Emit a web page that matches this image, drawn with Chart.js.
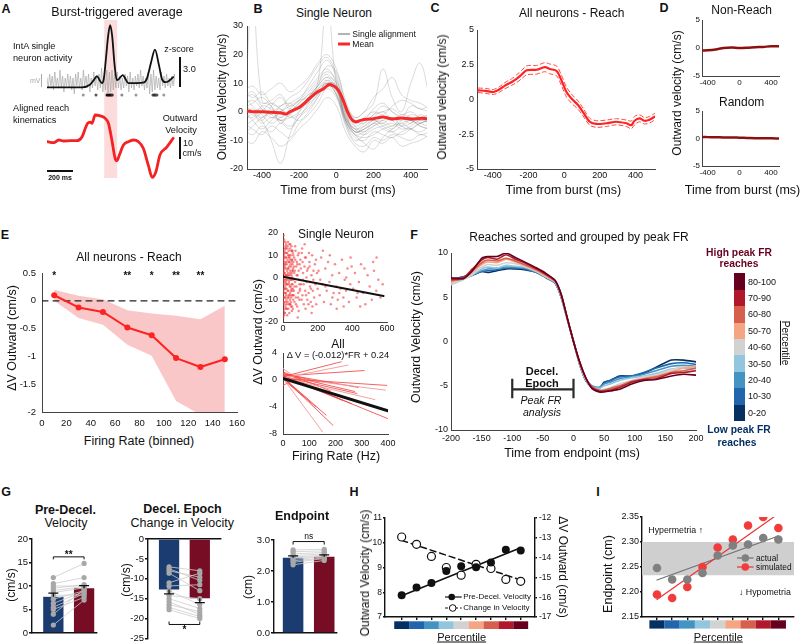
<!DOCTYPE html>
<html>
<head>
<meta charset="utf-8">
<title>IntA bursts and reach kinematics</title>
<script src="https://cdn.jsdelivr.net/npm/chart.js@4.4.1/dist/chart.umd.min.js"></script>
<style>
  html, body { margin: 0; padding: 0; background: #fff; }
  #fig { position: relative; width: 800px; height: 643px; overflow: hidden; background: #fff;
         font-family: "Liberation Sans", Arial, Helvetica, sans-serif; color: #111; }
  #fig canvas { position: absolute; }
  .lb { position: absolute; white-space: nowrap; line-height: 1; }
</style>
</head>
<body>
<div id="fig"></div>
<script>
// ---------- A: burst-triggered average (ms from burst) ----------
const zTimes = [-489,-220,-160,-130,-106,-85,-67,-52,-38,-19,-4,11,30,47,62,93,115,136,250,277,295,310,341,371,395,420,445,481];
const zScore = [0,0,0.25,0.7,1.1,0.7,0.4,0.9,2.6,5.1,6.1,5.1,2.2,0.7,0.8,1.2,0.8,0.4,0.45,0.8,1.6,2.4,3.7,2.2,0.8,0.5,0.6,1.0];
const rasterMv = [
  0.02,-0.03,0.04,-0.02,0.03,-0.04,0.05,-0.02,0.02,-0.03,
  0.06,-0.03,0.03,-0.05,0.02,-0.02,0.04,-0.03,0.03,-0.04,
  0.02,-0.06,0.04,-0.02,0.05,-0.03,0.02,-0.04,0.06,-0.02,
  0.03,-0.03,0.04,-0.05,0.02,-0.03,0.05,-0.02,0.03,-0.04,
  0.04,-0.03,0.07,-0.05,0.03,-0.04,0.06,-0.06,0.05,-0.05,
  0.06,-0.04,0.04,-0.03,0.05,-0.03,0.03,-0.04,0.02,-0.03,
  0.04,-0.02,0.03,-0.05,0.05,-0.03,0.02,-0.04,0.03,-0.02,
  0.04,-0.03,0.06,-0.02,0.03,-0.04,0.02,-0.03,0.05,-0.06,
  0.04,-0.05,0.06,-0.04,0.03,-0.03,0.02,-0.04,0.05,-0.02,
  0.03,-0.03,0.04,-0.02,0.02,-0.03,0.03,-0.02,0.04,-0.03];
const rasterT = rasterMv.map((v, i) => -490 + i * 10);
const spikeDotT = [-211,-113,-28,-18,-8,2,12,86,195,325,335,345,356,409];
const spikeDotColor = ['#999','#555','#111','#111','#111','#111','#333','#888','#999','#555','#333','#333','#555','#999'];
const velTimes = [-489,-438,-400,-361,-310,-259,-220,-195,-178,-157,-144,-119,-80,-42,-17,9,34,47,67,98,136,175,213,251,289,320,348,379,430,481];
const velocity = [-0.3,-0.75,0.44,0,0.13,0.13,1.9,5.6,7.8,8.3,7.8,11.5,11.1,10.0,7.8,0.44,-7.65,-8.7,-6.2,-1.8,-0.3,0.44,-0.3,-3.2,-10.6,-16.1,-13.6,-6.2,-2.8,1.2];
const burstWindow = [-50, 50];

// ---------- B: single neuron alignments ----------
const bTimes = [-500,-450,-400,-350,-300,-250,-200,-150,-100,-50,0,50,100,150,200,250,300,350,400,450,500];
const bTraces = [
  [2,4,1,-2,0,3,5,8,12,15,10,-2,-6,-5,-3,-4,-2,-5,-6,-4,-3],
  [-3,-1,-4,-2,-3,-1,2,5,9,12,8,-3,-8,-7,-5,-4,-6,-3,-2,-4,-5],
  [5,7,3,4,6,2,4,9,14,18,12,0,-5,-3,1,3,0,-2,2,1,0],
  [-6,-8,-5,-7,-4,-6,-2,1,5,9,6,-4,-9,-10,-7,-8,-9,-7,-6,-8,-7],
  [0,-2,2,1,-1,0,3,6,10,13,9,-1,-7,-6,-4,-2,-3,-1,-2,-3,-2],
  [8,5,7,3,2,5,7,11,16,19,13,2,-4,-2,0,-1,2,4,3,1,2],
  [-1,1,-2,0,-3,-2,0,4,8,11,7,-2,-6,-8,-6,-5,-4,-6,-5,-3,-4],
  [3,0,-3,2,5,1,2,3,6,10,9,0,-7,-5,-2,0,-3,-5,-4,-2,-1],
  [-4,-6,-8,-5,-7,-9,-4,-1,3,8,5,-5,-11,-12,-9,-10,-8,-9,-10,-8,-9],
  [1,3,5,2,-2,1,4,7,11,14,11,1,-5,-7,-4,-6,-7,-5,-3,-5,-6],
  [-2,0,1,-1,2,3,1,5,9,12,10,-1,-6,-4,-1,2,0,-2,-4,-1,-3],
  [6,2,-1,-4,-2,0,3,6,7,9,8,-3,-8,-9,-8,-6,-5,-4,-6,-7,-5],
  [-8,-5,-2,0,1,-2,-1,2,6,10,9,-2,-7,-6,-3,-5,-7,-8,-6,-4,-3],
  [4,6,2,-1,-3,-5,-2,3,9,16,14,3,-3,-4,-1,0,1,-1,0,-2,-1],
  [0,-3,-6,-3,0,2,4,5,8,10,6,-4,-10,-8,-5,-3,-2,-3,-1,-2,-4],
  [-5,-3,0,3,1,-1,-3,0,5,11,8,-3,-8,-11,-13,-9,-6,-4,-3,-5,-6],
  [-13,40,4,2,-4,0,2,4,7,10,6,-3,-7,-6,-4,-3,-5,-2,-3,-4,-2],
  [2,0,-3,-10,-18,-8,0,5,10,40,10,2,-2,0,3,15,5,0,10,17,5],
  [7,9,6,8,10,7,9,12,17,20,15,4,-2,0,5,8,12,6,4,3,1],
  [-9,-11,-7,-9,-12,-10,-6,-3,1,5,2,-7,-12,-14,-10,-11,-9,-12,-11,-10,-8]
];
const bMeanT = [-480,-450,-400,-350,-300,-270,-250,-200,-150,-120,-100,-70,-40,-20,0,20,40,60,80,100,130,160,200,250,300,350,400,450,487];
const bMean = [0.3,0,0,-0.2,-0.3,-0.8,0,1.5,4.3,6,7,8,9.5,9.2,8.3,6.5,3.5,0,-2.5,-3.5,-3,-2.6,-2.4,-1.8,-2.5,-2.2,-2.5,-2.3,-2.4];

// ---------- C: all neurons, reach ----------
const cTimes = [-481,-440,-397,-360,-332,-294,-266,-238,-210,-154,-108,-80,-42,-15,13,41,78,106,144,181,237,293,349,377,395,423,451,479,507];
const cMean  = [0.66,0.62,0.54,0.75,1.0,1.26,1.5,1.8,2.1,2.14,2.33,2.2,2.05,1.38,0.54,0.07,-0.4,-0.9,-1.6,-1.76,-1.71,-1.6,-1.71,-1.84,-1.53,-1.36,-1.53,-1.46,-1.24];
const cUpper = [0.82,0.80,0.72,0.95,1.22,1.5,1.78,2.1,2.42,2.45,2.65,2.55,2.4,1.75,0.9,0.4,-0.1,-0.62,-1.35,-1.52,-1.48,-1.38,-1.48,-1.55,-1.22,-1.1,-1.3,-1.22,-1.0];
const cLower = [0.5,0.44,0.36,0.55,0.78,1.02,1.22,1.5,1.78,1.83,2.0,1.85,1.7,1.0,0.18,-0.26,-0.7,-1.18,-1.85,-2.0,-1.94,-1.82,-1.94,-2.1,-1.82,-1.6,-1.76,-1.7,-1.48];

// ---------- D: non-reach and random bursts ----------
const dTimes = [-472,-400,-300,-200,-100,0,100,200,300,400,501];
const nonReach = [-0.45,-0.4,-0.25,0.0,0.1,0.0,0.05,0.15,0.2,0.3,0.3];
const randomBursts = [0.25,0.25,0.22,0.2,0.2,0.15,0.1,0.05,0.05,0.05,0.0];

// ---------- E: firing rate vs change in velocity ----------
const eRates = [10,30,50,70,90,110,130,150];
const eMean  = [0.1,-0.12,-0.2,-0.48,-0.62,-1.03,-1.19,-1.05];
const eUpper = [0.2,0.09,0.03,-0.17,-0.23,-0.27,-0.33,-0.09];
const eLower = [0.0,-0.31,-0.43,-0.79,-0.99,-1.8,-2.05,-2.01];
const sigRates = [10,70,90,110,130];
const sigMarks = ['*','**','*','**','**'];
const singleNeuronPts = [
  [1,14],[2,-6],[3,8],[4,-15],[5,3],[6,-11],[7,17],[8,-2],[9,6],[10,-9],
  [11,11],[12,-4],[13,1],[14,-13],[15,9],[16,-7],[17,4],[18,15],[19,-1],[20,-10],
  [2,5],[4,-3],[6,10],[8,-12],[10,2],[12,7],[14,-5],[16,13],[18,-8],[20,0],
  [22,6],[23,-14],[24,11],[25,-3],[26,8],[27,-11],[28,2],[29,16],[30,-6],[31,4],
  [32,-9],[33,12],[34,-2],[35,7],[36,-16],[37,1],[38,9],[39,-4],[40,13],[41,-7],
  [42,3],[43,-12],[44,10],[45,-1],[46,5],[47,-9],[48,14],[49,-5],[50,2],[51,8],
  [52,-13],[53,0],[54,6],[55,-3],[56,11],[57,-8],[58,4],[59,-10],[60,7],[1,-18],
  [3,19],[5,-1],[7,-7],[9,12],[11,-16],[13,6],[15,-3],[17,-11],[19,9],[21,-5],
  [24,3],[27,-1],[30,10],[33,-8],[36,5],[39,-12],[42,8],[45,-6],[48,1],[51,-3],
  [54,12],[57,-14],[60,-1],[2,0],[4,9],[6,-5],[8,4],[10,-14],[12,-1],[14,16],
  [3,-9],[5,11],[7,2],[9,-16],[11,5],[13,-7],[15,14],[17,-2],[19,7],[21,-12],
  [23,1],[25,13],[27,-6],[29,4],[31,-14],[33,9],[35,-3],[37,15],[39,-8],[41,2],
  [43,6],[45,-11],[47,12],[49,-1],[51,-15],[53,8],[55,3],[57,-5],[59,10],[61,-8],
  [63,5],[67,-4],[71,8],[75,-12],[79,1],[83,6],[87,-9],[91,11],[97,-6],[103,4],
  [107,-10],[113,7],[119,-3],[127,9],[133,-8],[139,3],[147,-12],[153,5],[161,-5],[175,-1],
  [1,7],[2,-11],[3,2],[4,16],[6,-17],[8,9],[10,-5],[12,13],[14,-9],[16,1],
  [18,-14],[20,11],[22,-3],[24,-17],[26,14],[28,-9],[30,1],[32,7],[34,-12],[36,10],
  [38,-1],[40,-10],[42,15],[44,-4],[46,-13],[48,7],[50,-8],[52,12],[54,-6],[56,3],
  [62,-6],[64,9],[66,-11],[68,3],[70,-2],[72,12],[74,-9],[76,5],[78,-4],[80,7],
  [82,-13],[84,1],[86,10],[88,-7],[90,3],[92,-1],[94,-10],[96,6],[98,-5],[100,8],
  [104,-3],[108,11],[112,-8],[116,2],[120,-12],[124,5],[128,-6],[132,9],[136,-2],[140,-10],
  [144,4],[148,-7],[152,7],[156,-4],[160,-11],[164,1],[168,10],[172,-6],[176,3],[180,-9],
  [184,6],[188,-3],[192,-12],[196,2],[200,-5],[70,14],[90,-15],[110,13],[130,-14],[150,11],
  [170,-13],[190,8],[85,-18],[125,15],[165,-16],[65,2],[95,-3],[115,-1],[135,0],[155,-2],
  [205,3],[212,-8],[220,9],[228,-3],[236,-11],[244,4],[252,-6],[260,7],[268,-2],[276,-12],
  [284,1],[292,-7],[300,6],[308,-4],[316,-10],[324,2],[332,-5],[340,8],[348,-9],[356,-1],
  [364,-6],[372,4],[380,-11],[388,-3],[396,5],[230,12],[270,10],[310,-14],[350,-13],[390,9],
  [215,-1],[245,-4],[285,-9],[325,-7],[365,0],
  [405,-5],[415,2],[425,-9],[438,-2],[450,6],[462,-7],[475,-12],[488,1],[500,-4],[512,-10],
  [525,3],[538,-6],[550,-1],[562,-9],[575,-3],[445,-13],[520,7],[470,4],[540,9],[430,-7]
];
const singleFitFR = [0, 580];
const singleFit = [0.4, -8.3];
// neuron fits: [FR start, dV start, FR end, dV end]
const neuronFits = [
  [0,0.5,222,2.7],[0,0.3,247,2.2],[0,0.6,309,1.4],[0,0.2,395,-0.8],[0,0.4,390,-1.5],
  [0,0.8,273,-1.7],[0,0.5,282,-2.0],[0,0.3,350,-2.9],[0,0.6,398,-5.7],[5,0.2,190,-6.7],
  [5,0.0,151,-7.7],[0,0.4,164,-5.2],[0,0.1,126,-4.0],[0,0.3,100,-3.0],[0,0.7,260,-3.5],
  [0,0.5,226,-3.0],[0,0.2,74,-2.3],[0,1.0,138,-0.3],[0,0.9,287,-1.1],[0,1.7,80,-0.5],
  [0,-0.8,60,0.4],[0,1.2,180,-1.6]
];
const allFitFR = [0, 400];
const allFit = [0.24, -4.56];

// ---------- F: reaches grouped by peak FR ----------
const fTimes = [-200,-180,-165,-150,-140,-125,-110,-95,-80,-60,-45,-30,-20,-10,0,10,20,30,42,50,60,75,95,115,135,160,180,200];
const fVel = [
  [7.0,7.3,7.5,7.9,7.8,8.0,8.2,8.2,8.1,7.8,7.3,6.6,5.0,2.5,0.0,-2.6,-4.4,-5.2,-5.3,-4.6,-4.4,-3.9,-3.9,-3.6,-2.9,-2.1,-2.1,-2.3],
  [7.0,7.3,7.5,7.9,8.0,8.1,8.3,8.3,8.2,7.8,7.2,6.6,5.0,2.5,0.0,-2.5,-4.4,-5.1,-5.2,-4.7,-4.4,-4.0,-3.9,-3.5,-3.0,-2.5,-2.4,-2.6],
  [6.8,7.2,7.6,8.0,8.2,8.3,8.4,8.4,8.3,7.8,7.3,6.6,5.0,2.5,0.0,-2.5,-4.3,-5.0,-5.2,-4.8,-4.6,-4.2,-4.0,-3.7,-3.3,-2.8,-2.7,-2.8],
  [6.4,7.0,7.5,8.2,8.4,8.3,8.6,8.5,8.4,7.9,7.3,6.7,5.1,2.5,0.0,-2.5,-4.3,-5.1,-5.3,-5.0,-4.8,-4.4,-4.1,-3.9,-3.6,-3.1,-3.0,-3.1],
  [6.5,7.0,7.6,8.4,8.7,8.6,8.9,8.8,8.5,7.9,7.3,6.7,5.1,2.5,0.0,-2.5,-4.3,-5.2,-5.5,-5.4,-5.2,-4.8,-4.4,-4.0,-3.8,-3.2,-2.9,-2.9],
  [6.7,7.2,7.8,8.7,9.0,8.9,9.3,9.0,8.6,8.0,7.4,6.8,5.2,2.6,0.0,-2.4,-4.2,-5.2,-5.6,-5.6,-5.4,-5.1,-4.6,-4.2,-3.9,-3.4,-3.0,-2.8],
  [6.9,7.1,8.0,8.9,9.2,9.1,9.4,9.1,8.7,8.1,7.5,6.8,5.2,2.6,0.0,-2.4,-4.1,-5.1,-5.5,-5.5,-5.3,-5.0,-4.5,-4.2,-4.0,-3.5,-3.3,-3.0],
  [7.0,7.2,8.2,9.2,9.5,9.3,9.8,9.3,8.9,8.2,7.6,6.9,5.3,2.6,0.0,-2.3,-4.1,-5.2,-5.6,-5.6,-5.5,-5.2,-4.6,-4.3,-4.2,-3.6,-3.5,-3.3],
  [7.2,7.1,8.0,9.4,9.6,9.6,10.0,9.5,9.0,8.3,7.7,6.9,5.3,2.6,0.0,-2.3,-4.1,-5.3,-5.7,-5.7,-5.6,-5.4,-4.8,-4.4,-4.3,-3.9,-3.7,-3.8]
];
const pctLabels = ['0-20','10-30','20-40','30-50','40-60','50-70','60-80','70-90','80-100'];
const pctColors = ['#053061','#2166ac','#4393c3','#92c5de','#d2d2d2','#f4a582','#d6604d','#b2182b','#67001f'];
const decelEpoch = [-100, 0];

// ---------- G: low vs high peak FR ----------
const g1Mean = [7.7, 9.5], g1Sem = [0.8, 0.6];
const g1Low  = [1.7,4.0,5.0,5.5,6.3,7.2,8.0,8.6,9.0,9.5,10.0,10.5,11.8];
const g1High = [7.0,9.3,7.6,8.4,8.8,9.0,8.1,9.6,9.9,10.3,10.0,11.8,14.8];
const g2Mean = [-12.7, -14.9], g2Sem = [1.1, 1.1];
const g2Low  = [-7.0,-7.5,-8.0,-8.6,-11.0,-11.8,-13.0,-14.2,-15.0,-15.8,-16.5,-17.2,-17.8];
const g2High = [-8.0,-10.4,-9.6,-13.0,-8.6,-11.5,-16.5,-15.0,-17.5,-19.0,-18.3,-19.5,-20.0];
const g3Mean = [2.43, 2.46], g3Sem = [0.06, 0.06];
const g3Low  = [2.20,2.28,2.33,2.38,2.42,2.46,2.50,2.55,2.62,2.68];
const g3High = [2.34,2.40,2.42,2.45,2.48,2.50,2.55,2.60,2.65,2.70];

// ---------- H, I: percentile groups ----------
const pctl = [1,2,3,4,5,6,7,8,9];
const hPreDecel = [7.88,8.19,8.37,8.86,9.05,9.01,9.2,9.72,9.69];
const hChange = [-12.96,-13.33,-13.94,-14.5,-14.89,-14.34,-14.55,-15.1,-15.2];
const hPreFit = [7.86, 9.8];
const hChangeFit = [-13.13, -15.13];
const iActual = [2.248,2.225,2.225,2.238,2.273,2.293,2.295,2.308,2.305];
const iSimulated = [2.195,2.188,2.21,2.25,2.289,2.305,2.333,2.35,2.328];
const iActFit = [2.224, 2.312];
const iSimFitX = [1, 8.7];
const iSimFit = [2.185, 2.350];
const normalBand = [2.2335, 2.30];

const NAVY = '#1b3c70', MAROON = '#760d24';
const fig = document.getElementById('fig');
Chart.defaults.font.family = '"Liberation Sans", Arial, Helvetica, sans-serif';
Chart.defaults.color = '#111';
Chart.defaults.elements.point.radius = 0;
Chart.defaults.elements.point.hoverRadius = 0;
Chart.defaults.elements.line.borderCapStyle = 'round';
Chart.defaults.elements.line.borderJoinStyle = 'round';

const xy = (xs, ys) => xs.map((x, i) => ({ x, y: ys[i] }));
const hid = (min, max, axis) => ({ type: 'linear', axis, display: false, min, max });

function linAxis(min, max, ticks, size, o = {}) {
  const col = o.color || '#444';
  const ax = {
    type: 'linear', min, max, offset: false,
    border: { display: true, color: col, width: o.bw || 1, dash: o.dash || [] },
    grid: { display: true, drawOnChartArea: false, drawTicks: !!o.tl, tickLength: o.tl || 0, color: col, lineWidth: o.bw || 1, offset: false },
    ticks: { display: !o.noLabels, font: { size: o.fs || 9 }, color: '#111', padding: o.pad ?? 2,
             maxRotation: 0, minRotation: 0, autoSkip: false, callback: o.fmt || (v => String(v)) },
    afterBuildTicks: s => { s.ticks = ticks.map(v => ({ value: v })); },
    afterFit: s => {
      if (s.isHorizontal()) s.height = size; else s.width = size;
      s.paddingLeft = s.paddingRight = s.paddingTop = s.paddingBottom = 0;
    }
  };
  if (o.position) ax.position = o.position;
  return ax;
}

// area = plot box in page pixels, m = room for ticks around it
function panel(area, m, type, datasets, scales, plugins = []) {
  const [x0, y0, x1, y1] = area.map(Math.round);
  const w = x1 - x0 + m.l + m.r, h = y1 - y0 + m.t + m.b;
  const cv = document.createElement('canvas');
  cv.width = w; cv.height = h;
  cv.style.left = (x0 - m.l) + 'px';
  cv.style.top = (y0 - m.t) + 'px';
  fig.appendChild(cv);
  return new Chart(cv, {
    type, data: { datasets }, plugins,
    options: {
      responsive: false, animation: false, devicePixelRatio: 1, events: [],
      layout: { padding: { left: m.pl ?? 0, top: m.t, right: m.pr ?? m.r, bottom: m.pb ?? 0 } },
      plugins: { legend: { display: false }, tooltip: { enabled: false } },
      scales
    }
  });
}

// ---------- plugins ----------
const burstBand = { id: 'burstBand', beforeDatasetsDraw(ch) {
  const { ctx, chartArea: a, scales: { x } } = ch;
  const l = x.getPixelForValue(burstWindow[0]), r = x.getPixelForValue(burstWindow[1]);
  ctx.save(); ctx.fillStyle = 'rgba(248,190,190,0.55)';
  ctx.fillRect(l, a.top + 2, r - l, a.bottom - a.top - 4); ctx.restore();
}};
const stars = { id: 'stars', afterDatasetsDraw(ch) {
  const { ctx, scales: { x, y } } = ch;
  ctx.save(); ctx.fillStyle = '#111'; ctx.font = 'bold 10px "Liberation Sans", Arial';
  ctx.textAlign = 'center'; ctx.textBaseline = 'middle';
  sigRates.forEach((r, i) => ctx.fillText(sigMarks[i], x.getPixelForValue(r), y.getPixelForValue(0.5) + 3));
  ctx.restore();
}};
const epochBracket = { id: 'epoch', afterDatasetsDraw(ch) {
  const { ctx, scales: { x, y } } = ch;
  const l = x.getPixelForValue(decelEpoch[0]), r = x.getPixelForValue(decelEpoch[1]);
  const ym = y.getPixelForValue(-5.4), yt = y.getPixelForValue(-4.2), yb = y.getPixelForValue(-6.4);
  ctx.save(); ctx.strokeStyle = '#2a2a2a'; ctx.lineWidth = 2.2;
  ctx.beginPath(); ctx.moveTo(l, ym); ctx.lineTo(r, ym);
  ctx.moveTo(l, yt); ctx.lineTo(l, yb); ctx.moveTo(r, yt); ctx.lineTo(r, yb); ctx.stroke(); ctx.restore();
}};
function barExtras(means, sems, br) {
  return { id: 'extras', afterDatasetsDraw(ch) {
    const { ctx, scales: { x, y } } = ch;
    ctx.save(); ctx.strokeStyle = '#111'; ctx.lineWidth = 1.3;
    means.forEach((m, i) => {
      const px = x.getPixelForValue(i + 1), y0 = y.getPixelForValue(m), y1 = y.getPixelForValue(m + Math.sign(m) * sems[i]);
      ctx.beginPath(); ctx.moveTo(px, y0); ctx.lineTo(px, y1);
      ctx.moveTo(px - 5, y1); ctx.lineTo(px + 5, y1); ctx.stroke();
    });
    const yb = y.getPixelForValue(br.y), xa = x.getPixelForValue(1), xb = x.getPixelForValue(2);
    ctx.lineWidth = 1;
    ctx.beginPath(); ctx.moveTo(xa, yb + br.tick); ctx.lineTo(xa, yb); ctx.lineTo(xb, yb); ctx.lineTo(xb, yb + br.tick); ctx.stroke();
    ctx.fillStyle = '#111'; ctx.font = br.font; ctx.textAlign = 'center'; ctx.textBaseline = 'middle';
    ctx.fillText(br.text, (xa + xb) / 2, yb + br.dy);
    ctx.restore();
  }};
}
function colorbar(top, bottom) {
  return { id: 'cbar', afterDraw(ch) {
    const { ctx, chartArea: a, scales: { x } } = ch;
    ctx.save();
    pctColors.forEach((c, i) => {
      const l = x.getPixelForValue(pctl[i] - 0.5), r = x.getPixelForValue(pctl[i] + 0.5);
      ctx.fillStyle = c; ctx.fillRect(l, a.bottom + top, r - l, bottom - top);
    });
    ctx.restore();
  }};
}
const bandPlugin = { id: 'band', beforeDatasetsDraw(ch) {
  const { ctx, chartArea: a, scales: { y } } = ch;
  const t = y.getPixelForValue(normalBand[1]), b = y.getPixelForValue(normalBand[0]);
  ctx.save(); ctx.fillStyle = '#cfcfcf'; ctx.fillRect(a.left, t, a.right - a.left, b - t); ctx.restore();
}};

// ---------- A ----------
panel([47, 18, 175, 180], { l: 7, t: 3, r: 8, b: 5, pl: 7, pb: 5 }, 'line', [
  { data: xy(zTimes, zScore), yAxisID: 'z', borderColor: '#111', borderWidth: 1.8, cubicInterpolationMode: 'monotone' },
  { data: xy(rasterT, rasterMv), yAxisID: 'mv', borderColor: '#a9a9a9', borderWidth: 0.7 },
  { data: xy(spikeDotT, spikeDotT.map(() => -0.76)), yAxisID: 'z', showLine: false, pointRadius: 1.5,
    pointBackgroundColor: spikeDotColor, pointBorderWidth: 0 },
  { data: xy(velTimes, velocity), yAxisID: 'vel', borderColor: '#f42222', borderWidth: 2.8, cubicInterpolationMode: 'monotone' }
], { x: hid(-490, 495, 'x'), z: hid(-9.088, 6.794, 'y'), mv: hid(-0.49, 0.32, 'y'), vel: hid(-17.26, 54.4, 'y') }, [burstBand]);

// ---------- B ----------
panel([247, 26, 427, 169], { l: 24, t: 6, r: 10, b: 14 }, 'line',
  [{ data: xy(bMeanT, bMean), borderColor: '#f52a2a', borderWidth: 3, tension: 0.35 }]
    .concat(bTraces.map(tr => ({ data: xy(bTimes, tr), borderColor: 'rgba(110,110,110,0.28)', borderWidth: 0.9, tension: 0.4 }))),
  { x: linAxis(-480, 487, [-400, -200, 0, 200, 400], 14, { pad: 1 }),
    y: linAxis(-20, 30, [-20, -10, 0, 10, 20, 30], 24, { pad: 4 }) });

// ---------- C ----------
panel([477, 30, 655, 169], { l: 22, t: 6, r: 10, b: 14 }, 'line', [
  { data: xy(cTimes, cMean), borderColor: '#f22', borderWidth: 2.2, tension: 0.3 },
  { data: xy(cTimes, cUpper), borderColor: '#f44', borderWidth: 1, borderDash: [4, 3], tension: 0.3 },
  { data: xy(cTimes, cLower), borderColor: '#f44', borderWidth: 1, borderDash: [4, 3], tension: 0.3 }
], { x: linAxis(-489, 510, [-400, -200, 0, 200, 400], 14, { pad: 1 }),
     y: linAxis(-5, 5, [-5, -2.5, 0, 2.5, 5], 22, { pad: 3 }) });

// ---------- D ----------
[[20, 76, nonReach], [111, 166, randomBursts]].forEach(([top, bot, vals]) => {
  panel([702, top, 779, bot], { l: 14, t: 5, r: 10, b: 13 }, 'line', [
    { data: xy(dTimes, vals), borderColor: '#8b1111', borderWidth: 2.5, tension: 0.3 }
  ], { x: linAxis(-472, 501, [-400, 0, 400], 13, { fs: 8, pad: 2 }),
       y: linAxis(-5, 5, [-5, 0, 5], 14, { fs: 8, pad: 2 }) });
});

// ---------- E ----------
panel([42, 273, 237, 412], { l: 24, t: 12, r: 8, b: 16 }, 'line', [
  { data: xy(eRates, eMean), borderColor: '#f22', borderWidth: 2, pointRadius: 3, pointBackgroundColor: '#f22', pointBorderWidth: 0 },
  { data: xy([0, 160], [0, 0]), borderColor: '#222', borderWidth: 1.2, borderDash: [6, 5] },
  { data: xy(eRates, eUpper), borderColor: 'rgba(0,0,0,0)', fill: '+1', backgroundColor: 'rgba(248,185,185,0.8)' },
  { data: xy(eRates, eLower), borderColor: 'rgba(0,0,0,0)' }
], { x: linAxis(0, 160, [0, 20, 40, 60, 80, 100, 120, 140, 160], 16, { fs: 9.5, pad: 6 }),
     y: linAxis(-2, 0.5, [-2, -1.5, -1, -0.5, 0, 0.5], 24, { fs: 9.5, pad: 6 }) }, [stars]);

panel([283, 233, 387, 322], { l: 20, t: 4, r: 10, b: 12 }, 'line', [
  { data: xy(singleFitFR, singleFit), borderColor: '#111', borderWidth: 2 },
  { data: singleNeuronPts.map(p => ({ x: p[0], y: p[1] })), showLine: false, pointRadius: 1.25,
    pointBackgroundColor: 'rgba(242,60,60,0.6)', pointBorderWidth: 0 }
], { x: linAxis(0, 600, [0, 200, 400, 600], 12, { pad: 1 }),
     y: linAxis(-20, 20, [-20, -10, 0, 10, 20], 20, { pad: 5 }) });

panel([283, 353, 388, 434], { l: 20, t: 4, r: 10, b: 16 }, 'line',
  [{ data: xy(allFitFR, allFit), borderColor: '#111', borderWidth: 3 }]
    .concat(neuronFits.map((f, i) => ({ data: [{ x: f[0], y: f[1] }, { x: f[2], y: f[3] }],
      borderColor: i % 3 === 1 ? 'rgba(246,150,150,0.9)' : 'rgba(242,70,70,0.85)', borderWidth: 1 }))),
  { x: linAxis(0, 400, [0, 100, 200, 300, 400], 16, { pad: 4 }),
    y: linAxis(-8, 4, [-8, -4, 0, 4], 20, { pad: 6 }) });

// ---------- F ----------
panel([451, 253, 696, 430], { l: 22, t: 6, r: 12, b: 16 }, 'line',
  fVel.map((v, i) => ({ data: xy(fTimes, v), borderColor: pctColors[i], borderWidth: 1.6, tension: 0.2 })).reverse(),
  { x: linAxis(-200, 200, [-200, -150, -100, -50, 0, 50, 100, 150, 200], 16, { pad: 3 }),
    y: linAxis(-10, 10, [-10, -5, 0, 5, 10], 22, { pad: 3 }) }, [epochBracket]);

// ---------- G ----------
function barSets(means, low, high) {
  const sets = [{ type: 'bar', data: xy([1, 2], means), backgroundColor: [NAVY, MAROON], barPercentage: 0.66, categoryPercentage: 1, order: 10 }];
  low.forEach((v, i) => sets.push({ type: 'line', data: xy([1, 2], [v, high[i]]), borderColor: '#cdcdcd', borderWidth: 0.8, order: 5 }));
  sets.push({ type: 'line', showLine: false, data: xy(low.map(() => 1), low).concat(xy(high.map(() => 2), high)),
    pointRadius: 2.6, pointBackgroundColor: '#a8a8a8', pointBorderWidth: 0, order: 1 });
  return sets;
}
const gAx = { color: '#111', bw: 1.4, tl: 3, pad: 1, fs: 9.5 };
panel([32, 539, 97, 633], { l: 18, t: 4, r: 4, b: 5 }, 'bar', barSets(g1Mean, g1Low, g1High),
  { x: linAxis(0.306, 2.42, [1, 2], 5, { color: '#111', bw: 1.4, noLabels: true }),
    y: linAxis(0, 20, [0, 5, 10, 15, 20], 18, gAx) },
  [barExtras(g1Mean, g1Sem, { y: 16.2, tick: 2.5, text: '**', dy: -1.5, font: 'bold 10px "Liberation Sans", Arial' })]);
panel([148, 539, 221, 635], { l: 18, t: 4, r: 4, b: 6 }, 'bar', barSets(g2Mean, g2Low, g2High),
  { x: linAxis(0.315, 2.69, [1, 2], 0, { color: '#111', bw: 1.4, noLabels: true, position: 'top' }),
    y: linAxis(-25, 0, [-25, -20, -15, -10, -5, 0], 18, gAx) },
  [barExtras(g2Mean, g2Sem, { y: -21.5, tick: -3, text: '*', dy: 5.5, font: 'bold 10px "Liberation Sans", Arial' })]);
panel([274, 540, 337, 633], { l: 20, t: 10, r: 4, b: 5 }, 'bar', barSets(g3Mean, g3Low, g3High),
  { x: linAxis(0.387, 2.41, [1, 2], 5, { color: '#111', bw: 1.4, noLabels: true }),
    y: linAxis(0, 3, [0, 1, 2, 3], 20, Object.assign({}, gAx, { fmt: v => v.toFixed(1) })) },
  [barExtras(g3Mean, g3Sem, { y: 2.95, tick: 3, text: 'ns', dy: -5, font: '8.5px "Liberation Sans", Arial' })]);

// ---------- H ----------
panel([385, 518, 535, 617], { l: 16, t: 6, r: 24, b: 22, pr: 0 }, 'line', [
  { data: xy(pctl, hPreDecel), showLine: false, pointRadius: 4, pointBackgroundColor: '#111', pointBorderWidth: 0 },
  { data: xy(pctl, hChange), yAxisID: 'yR', showLine: false, pointRadius: 4, pointBackgroundColor: '#fff', pointBorderColor: '#111', pointBorderWidth: 1.2 },
  { data: xy([1, 9], hPreFit), borderColor: '#111', borderWidth: 1.5 },
  { data: xy([1, 9], hChangeFit), yAxisID: 'yR', borderColor: '#111', borderWidth: 1.5, borderDash: [6, 4] }
], { x: linAxis(-0.12, 9.96, pctl, 22, { color: '#111', bw: 1.4, tl: 3, noLabels: true }),
     y: linAxis(7, 11, [7, 8, 9, 10, 11], 16, { color: '#111', bw: 1.4, tl: 2, pad: 1, fs: 8.5 }),
     yR: linAxis(-17, -12, [-17, -16, -15, -14, -13, -12], 24, { color: '#111', bw: 1.4, tl: 2, pad: 2, fs: 8.5, position: 'right', dash: [4, 3] }) },
  [colorbar(4.3, 12)]);

// ---------- I ----------
panel([642, 517, 794, 617], { l: 24, t: 6, r: 5, b: 22 }, 'line', [
  { data: xy(pctl, iActual), showLine: false, pointRadius: 4.3, pointBackgroundColor: '#808080', pointBorderWidth: 0 },
  { data: xy(pctl, iSimulated), showLine: false, pointRadius: 4.3, pointBackgroundColor: '#f23b3b', pointBorderWidth: 0 },
  { data: xy(iSimFitX, iSimFit), borderColor: '#f03030', borderWidth: 1.2 },
  { data: xy([1, 9], iActFit), borderColor: '#707070', borderWidth: 1.2 }
], { x: linAxis(0.013, 10.03, pctl, 22, { color: '#111', bw: 1.4, tl: 3, noLabels: true }),
     y: linAxis(2.15, 2.35, [2.15, 2.2, 2.25, 2.3, 2.35], 24, { color: '#111', bw: 1.4, tl: 2, pad: 1, fs: 9, fmt: v => v.toFixed(2) }) },
  [bandPlugin, colorbar(3.3, 11.6)]);

// ---------- text, legends, scale bars ----------
function label(text, x, y, size, o = {}) {
  const d = document.createElement('div');
  d.className = 'lb';
  d.textContent = text;
  let tf = o.left ? 'translate(0,-50%)' : 'translate(-50%,-50%)';
  if (o.rot) tf += ` rotate(${o.rot}deg)`;
  d.style.left = x + 'px'; d.style.top = y + 'px'; d.style.fontSize = size + 'px'; d.style.transform = tf;
  if (o.bold) d.style.fontWeight = 'bold';
  if (o.italic) d.style.fontStyle = 'italic';
  if (o.color) d.style.color = o.color;
  if (o.under) d.style.textDecoration = 'underline';
  fig.appendChild(d);
}
function rect(x, y, w, h, c) {
  const d = document.createElement('div');
  d.style.cssText = `position:absolute;left:${x}px;top:${y}px;width:${w}px;height:${h}px;background:${c}`;
  fig.appendChild(d);
}
function sample(x0, x1, y, o) {
  const w = x1 - x0 + 8;
  fig.insertAdjacentHTML('beforeend',
    `<svg xmlns="http://www.w3.org/2000/svg" width="${w}" height="10" style="position:absolute;left:${x0 - 4}px;top:${y - 5}px">` +
    `<line x1="4" y1="5" x2="${w - 4}" y2="5" stroke="${o.line}" stroke-width="${o.lw || 1.2}"${o.dash ? ` stroke-dasharray="${o.dash}"` : ''}/>` +
    (o.r ? `<circle cx="${o.cx - x0 + 4}" cy="5" r="${o.r}" fill="${o.fill}" stroke="${o.stroke || 'none'}" stroke-width="1"/>` : '') + `</svg>`);
}

// panel letters
[['A', 6, 9], ['B', 258, 9], ['C', 435, 8], ['D', 664, 8], ['E', 5, 235], ['F', 414, 235],
 ['G', 6, 492], ['H', 354, 492], ['I', 598, 492]].forEach(([t, x, y]) => label(t, x, y, 12.5, { bold: true }));

// A
label('Burst-triggered average', 117, 12, 12.5);
label('IntA single', 13, 46.7, 9.2, { left: true });
label('neuron activity', 13, 59.3, 9.2, { left: true });
label('z-score', 179, 49.3, 9);
label('3.0', 183, 70, 9.2, { left: true });
label('mV', 30, 80, 7, { left: true, color: '#aaa' });
label('Aligned reach', 13, 109, 9.2, { left: true });
label('kinematics', 13, 120.5, 9.2, { left: true });
label('Outward', 180, 119.3, 9.2);
label('Velocity', 181, 130.5, 9.2);
label('10', 183, 142.7, 9, { left: true });
label('cm/s', 182.5, 153.3, 9, { left: true });
label('200 ms', 60, 176.7, 7, { bold: true });
rect(179.3, 56.7, 1.5, 30.6, '#111');
rect(40.5, 74, 1, 13, '#aaa');
rect(179.3, 136.7, 1.5, 22.6, '#111');
rect(46.7, 170, 26, 1.6, '#111');

// B
label('Single Neuron', 334, 13.3, 12);
label('Outward Velocity (cm/s)', 222, 97, 12, { rot: -90 });
label('Time from burst (ms)', 338, 190, 12.5);
sample(338, 350, 34.3, { line: '#9a9a9a', lw: 1.5 });
sample(338, 350, 44.3, { line: '#f52a2a', lw: 3 });
label('Single alignment', 352.3, 34.3, 8.6, { left: true });
label('Mean', 352.3, 44.3, 8.6, { left: true });

// C, D
label('All neurons - Reach', 571.7, 12.7, 12);
label('Outward velocity (cm/s)', 442, 97, 12, { rot: -90 });
label('Time from burst (ms)', 563.3, 190, 12.5);
label('Non-Reach', 741.7, 10, 12);
label('Random', 741.7, 101.7, 12);
label('Outward velocity (cm/s)', 677, 93, 12, { rot: -90 });
label('Time from burst (ms)', 742.5, 190, 12.5);

// E
label('All neurons - Reach', 129, 256.7, 12);
label('ΔV Outward (cm/s)', 12, 338, 12.5, { rot: -90 });
label('Firing Rate (binned)', 139, 441, 12.5);
label('Single Neuron', 336, 234, 12);
label('ΔV Outward (cm/s)', 258, 332, 12.5, { rot: -90 });
label('All', 338, 344, 12);
label('Δ V = (-0.012)*FR + 0.24', 338, 356, 9.3);
label('Firing Rate (Hz)', 336, 456, 12.5);

// F
label('Reaches sorted and grouped by peak FR', 579, 236.7, 12);
label('Outward Velocity (cm/s)', 416, 337, 12.5, { rot: -90 });
label('Time from endpoint (ms)', 572, 453, 12.5);
label('Decel.', 542, 371, 11, { bold: true });
label('Epoch', 542, 382.7, 11, { bold: true });
label('Peak FR', 541, 400, 10.5, { italic: true });
label('analysis', 542, 411.7, 10.5, { italic: true });
label('High peak FR', 739, 252.7, 10.3, { bold: true, color: '#67001f' });
label('reaches', 739, 264, 10.3, { bold: true, color: '#67001f' });
label('Low peak FR', 739, 430, 10.3, { bold: true, color: '#053061' });
label('reaches', 737, 442.7, 10.3, { bold: true, color: '#053061' });
pctLabels.forEach((t, i) => {
  const row = pctLabels.length - 1 - i;
  rect(734, 273.3 + row * 16.4, 11, 16.5, pctColors[i]);
  label(t, 748, 281.5 + row * 16.4, 9, { left: true });
});
label('Percentile', 785, 343, 10, { rot: 90, under: true });

// G
label('Pre-Decel.', 65.5, 510, 12.5, { bold: true });
label('Velocity', 66, 523.3, 12.5);
label('(cm/s)', 10.5, 585, 12, { rot: -90 });
label('Decel. Epoch', 182.5, 509.3, 12.5, { bold: true });
label('Change in Velocity', 182.3, 523.3, 12.5);
label('(cm/s)', 126, 580, 12, { rot: -90 });
label('Endpoint', 302, 516, 12.5, { bold: true });
label('(cm)', 248, 586.7, 12, { rot: -90 });

// H
label('Outward Velocity (cm/s)', 365, 572.5, 12, { rot: -90 });
label('ΔV Outward (cm/s)', 562.5, 566.7, 12, { rot: 90 });
sample(445, 461.7, 596.7, { line: '#111', cx: 451.7, r: 3.3, fill: '#111' });
sample(445, 461.7, 608.3, { line: '#111', dash: '3,2', cx: 452.7, r: 3.3, fill: '#fff', stroke: '#111' });
label('Pre-Decel. Velocity', 463.3, 596.7, 8, { left: true });
label('Change in Velocity', 463.3, 608.3, 8, { left: true });
label('Percentile', 461.7, 636.7, 11, { under: true });

// I
label('Endpoint (cm)', 607.5, 574, 12.5, { rot: -90 });
label('Hypermetria ↑', 648.3, 530, 8.8, { left: true });
label('↓ Hypometria', 739, 591.7, 8.8, { left: true });
sample(736.7, 753.3, 557.7, { line: '#707070', cx: 745, r: 3.8, fill: '#808080' });
sample(736.7, 753.3, 566.7, { line: '#f03030', cx: 745, r: 3.8, fill: '#f23b3b' });
label('actual', 756, 557.7, 8.3, { left: true });
label('simulated', 756, 566.7, 8.3, { left: true });
label('Percentile', 718.3, 636.7, 11, { under: true });
</script>
</body>
</html>
